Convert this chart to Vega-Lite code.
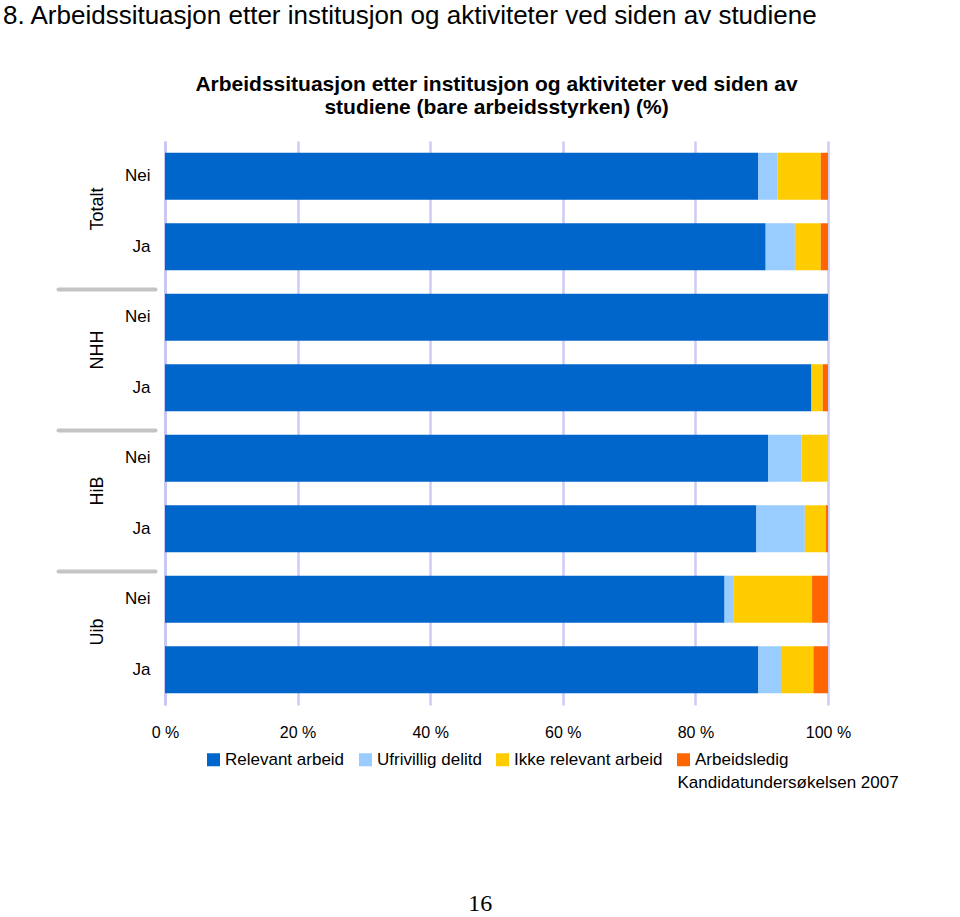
{
  "$schema": "https://vega.github.io/schema/vega-lite/v6.json",
  "padding": {"left": 3, "top": 3, "right": 0, "bottom": 0},
  "background": "#ffffff",
  "config": {
    "font": "Liberation Sans",
    "view": {"stroke": null},
    "title": {"color": "#000000"},
    "axis": {"labelColor": "#000000", "labelFont": "Liberation Sans"},
    "legend": {"labelColor": "#000000", "labelFont": "Liberation Sans", "layout": {"bottom": {"anchor": "middle"}}}
  },
  "title": {
    "text": "8. Arbeidssituasjon etter institusjon og aktiviteter ved siden av studiene",
    "anchor": "start",
    "font": "Liberation Sans",
    "fontSize": 26,
    "fontWeight": "normal",
    "dx": -53,
    "offset": 45
  },
  "resolve": {"scale": {"color": "independent"}, "legend": {"color": "independent"}},
  "vconcat": [
    {
      "title": {
        "text": "16",
        "orient": "bottom",
        "anchor": "middle",
        "font": "Liberation Serif",
        "fontSize": 24,
        "fontWeight": "normal",
        "offset": 101,
        "dx": 3
      },
      "resolve": {"scale": {"color": "independent"}, "legend": {"color": "independent"}},
      "vconcat": [
        {
          "title": {
            "text": "Kandidatundersøkelsen 2007",
            "orient": "bottom",
            "anchor": "end",
            "font": "Liberation Sans",
            "fontSize": 17,
            "fontWeight": "normal",
            "offset": 7,
            "dx": 48
          },
          "resolve": {"scale": {"color": "independent"}, "legend": {"color": "independent"}},
          "vconcat": [
            {
              "width": 663,
              "height": 564,
              "title": {
                "text": ["Arbeidssituasjon etter institusjon og aktiviteter ved siden av", "studiene (bare arbeidsstyrken) (%)"],
                "font": "Liberation Sans",
                "fontSize": 21,
                "fontWeight": "bold",
                "anchor": "middle",
                "frame": "group",
                "lineHeight": 23,
                "offset": 23
              },
              "data": {
                "values": [
                  {"inst": "Totalt", "row": "Totalt Nei", "cat": "Relevant arbeid", "k": 1, "value": 89.5},
                  {"inst": "Totalt", "row": "Totalt Nei", "cat": "Ufrivillig delitd", "k": 2, "value": 2.9},
                  {"inst": "Totalt", "row": "Totalt Nei", "cat": "Ikke relevant arbeid", "k": 3, "value": 6.5},
                  {"inst": "Totalt", "row": "Totalt Nei", "cat": "Arbeidsledig", "k": 4, "value": 1.1},
                  {"inst": "Totalt", "row": "Totalt Ja", "cat": "Relevant arbeid", "k": 1, "value": 90.6},
                  {"inst": "Totalt", "row": "Totalt Ja", "cat": "Ufrivillig delitd", "k": 2, "value": 4.4},
                  {"inst": "Totalt", "row": "Totalt Ja", "cat": "Ikke relevant arbeid", "k": 3, "value": 3.9},
                  {"inst": "Totalt", "row": "Totalt Ja", "cat": "Arbeidsledig", "k": 4, "value": 1.1},
                  {"inst": "NHH", "row": "NHH Nei", "cat": "Relevant arbeid", "k": 1, "value": 100},
                  {"inst": "NHH", "row": "NHH Ja", "cat": "Relevant arbeid", "k": 1, "value": 97.5},
                  {"inst": "NHH", "row": "NHH Ja", "cat": "Ikke relevant arbeid", "k": 3, "value": 1.7},
                  {"inst": "NHH", "row": "NHH Ja", "cat": "Arbeidsledig", "k": 4, "value": 0.8},
                  {"inst": "HiB", "row": "HiB Nei", "cat": "Relevant arbeid", "k": 1, "value": 91.0},
                  {"inst": "HiB", "row": "HiB Nei", "cat": "Ufrivillig delitd", "k": 2, "value": 5.0},
                  {"inst": "HiB", "row": "HiB Nei", "cat": "Ikke relevant arbeid", "k": 3, "value": 4.0},
                  {"inst": "HiB", "row": "HiB Ja", "cat": "Relevant arbeid", "k": 1, "value": 89.2},
                  {"inst": "HiB", "row": "HiB Ja", "cat": "Ufrivillig delitd", "k": 2, "value": 7.3},
                  {"inst": "HiB", "row": "HiB Ja", "cat": "Ikke relevant arbeid", "k": 3, "value": 3.2},
                  {"inst": "HiB", "row": "HiB Ja", "cat": "Arbeidsledig", "k": 4, "value": 0.3},
                  {"inst": "Uib", "row": "Uib Nei", "cat": "Relevant arbeid", "k": 1, "value": 84.4},
                  {"inst": "Uib", "row": "Uib Nei", "cat": "Ufrivillig delitd", "k": 2, "value": 1.3},
                  {"inst": "Uib", "row": "Uib Nei", "cat": "Ikke relevant arbeid", "k": 3, "value": 11.9},
                  {"inst": "Uib", "row": "Uib Nei", "cat": "Arbeidsledig", "k": 4, "value": 2.4},
                  {"inst": "Uib", "row": "Uib Ja", "cat": "Relevant arbeid", "k": 1, "value": 89.5},
                  {"inst": "Uib", "row": "Uib Ja", "cat": "Ufrivillig delitd", "k": 2, "value": 3.4},
                  {"inst": "Uib", "row": "Uib Ja", "cat": "Ikke relevant arbeid", "k": 3, "value": 4.9},
                  {"inst": "Uib", "row": "Uib Ja", "cat": "Arbeidsledig", "k": 4, "value": 2.2}
                ]
              },
              "layer": [
                {
                  "mark": {"type": "bar"},
                  "encoding": {
                    "y": {
                      "field": "row",
                      "type": "nominal",
                      "sort": ["Totalt Nei", "Totalt Ja", "NHH Nei", "NHH Ja", "HiB Nei", "HiB Ja", "Uib Nei", "Uib Ja"],
                      "scale": {"paddingInner": 0.333, "paddingOuter": 0.1667},
                      "axis": {
                        "orient": "left",
                        "title": null,
                        "domain": true,
                        "domainColor": "#c8c8f2",
                        "domainWidth": 3,
                        "ticks": false,
                        "grid": false,
                        "labelPadding": 15,
                        "labelFontSize": 17,
                        "labelExpr": "split(datum.value, ' ')[1]"
                      }
                    },
                    "x": {
                      "field": "value",
                      "type": "quantitative",
                      "stack": "zero",
                      "scale": {"domain": [0, 100], "nice": false},
                      "axis": {
                        "title": null,
                        "values": [0, 20, 40, 60, 80, 100],
                        "labelExpr": "datum.value + ' %'",
                        "labelFlush": false,
                        "grid": true,
                        "gridColor": "#ccccf5",
                        "gridWidth": 2.5,
                        "domain": false,
                        "ticks": false,
                        "labelPadding": 19,
                        "labelFontSize": 16
                      }
                    },
                    "color": {
                      "field": "cat",
                      "type": "nominal",
                      "scale": {
                        "domain": ["Relevant arbeid", "Ufrivillig delitd", "Ikke relevant arbeid", "Arbeidsledig"],
                        "range": ["#0066cc", "#99ccff", "#ffcc00", "#ff6600"]
                      },
                      "legend": {
                        "title": null,
                        "orient": "bottom",
                        "direction": "horizontal",
                        "symbolType": "square",
                        "symbolSize": 169,
                        "symbolStrokeWidth": 0,
                        "labelFontSize": 17,
                        "labelOffset": 3,
                        "labelLimit": 0,
                        "columnPadding": 12,
                        "offset": 11
                      }
                    },
                    "order": {"field": "k", "type": "quantitative"}
                  }
                },
                {
                  "mark": {"type": "bar", "opacity": 0},
                  "encoding": {
                    "y": {
                      "field": "inst",
                      "type": "nominal",
                      "sort": ["Totalt", "NHH", "HiB", "Uib"],
                      "scale": {"paddingInner": 0, "paddingOuter": 0},
                      "axis": {
                        "orient": "left",
                        "title": null,
                        "offset": 10,
                        "domain": false,
                        "grid": false,
                        "ticks": true,
                        "bandPosition": 1,
                        "tickExtra": false,
                        "tickSize": 97,
                        "tickWidth": 4,
                        "tickColor": "#c4c4c4",
                        "tickCap": "round",
                        "tickOffset": 7,
                        "tickOpacity": {"condition": {"test": "datum.value === 'Uib' || !datum.value", "value": 0}, "value": 1},
                        "labelAngle": -90,
                        "labelAlign": "center",
                        "labelBaseline": "middle",
                        "labelPadding": -39,
                        "labelOffset": -10,
                        "labelFontSize": 18
                      }
                    }
                  }
                }
              ],
              "resolve": {"scale": {"y": "independent"}, "axis": {"y": "independent"}}
            }
          ]
        }
      ]
    }
  ]
}
